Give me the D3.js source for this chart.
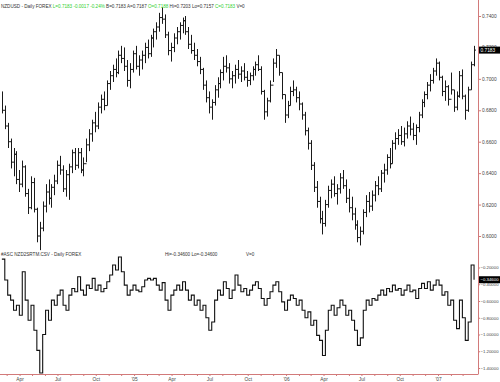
<!DOCTYPE html>
<html>
<head>
<meta charset="utf-8">
<script src="https://cdn.jsdelivr.net/npm/d3@7"></script>
<style>
  body { margin: 0; background: #fff; }
  svg { display: block; }
  text { font-family: "Liberation Sans", Arial, sans-serif; }
</style>
</head>
<body>
<svg id="chart" width="500" height="382"></svg>
<script>
// weekly bars, first week starting Mon 16 Feb 2004
const firstWeek = new Date(2004, 1, 16);
const priceHi = [.6920,.6830,.6720,.6620,.6560,.6540,.6420,.6480,.6450,.6300,.6380,.6370,.6180,.6090,.6220,.6330,.6360,.6330,.6390,.6480,
  .6510,.6450,.6420,.6460,.6550,.6560,.6560,.6560,.6500,.6620,.6680,.6740,.6790,.6850,.6900,.6920,.6990,.7050,.7090,.7130,
  .7180,.7210,.7200,.7120,.7100,.7180,.7210,.7150,.7180,.7230,.7250,.7280,.7320,.7360,.7420,.7455,.7410,.7300,.7230,.7290,
  .7330,.7360,.7390,.7400,.7330,.7280,.7230,.7190,.7140,.7070,.6990,.6920,.6870,.6960,.7010,.7060,.7140,.7150,.7100,.7050,
  .7090,.7120,.7080,.7100,.7050,.7040,.7080,.7110,.7150,.7080,.6930,.6880,.6990,.7130,.7190,.7150,.7040,.6900,.6860,.6950,
  .6990,.6950,.6920,.6850,.6790,.6690,.6610,.6470,.6350,.6250,.6160,.6230,.6320,.6360,.6380,.6330,.6400,.6420,.6360,.6300,
  .6250,.6180,.6100,.6060,.6170,.6260,.6280,.6290,.6350,.6380,.6420,.6460,.6520,.6560,.6610,.6660,.6680,.6700,.6690,.6730,
  .6760,.6720,.6710,.6790,.6870,.6920,.6980,.7030,.7070,.7130,.7110,.7020,.6990,.6960,.7040,.6930,.6920,.7050,.7060,.6900,
  .6950,.7110,.7210];
const priceLo = [.6780,.6680,.6560,.6430,.6380,.6330,.6280,.6310,.6250,.6140,.6170,.6150,.5960,.5910,.6030,.6150,.6200,.6180,.6260,.6330,
  .6390,.6280,.6250,.6230,.6400,.6420,.6430,.6400,.6380,.6470,.6540,.6600,.6660,.6680,.6780,.6800,.6830,.6930,.6980,.7010,
  .7030,.7100,.7050,.6950,.6940,.7040,.7060,.7020,.7060,.7100,.7130,.7140,.7200,.7250,.7300,.7350,.7260,.7150,.7110,.7170,
  .7220,.7250,.7290,.7280,.7190,.7160,.7120,.7080,.7030,.6930,.6850,.6780,.6740,.6830,.6880,.6940,.6990,.7040,.6970,.6940,
  .6970,.7000,.6980,.6990,.6950,.6960,.6990,.7020,.7050,.6900,.6740,.6760,.6850,.6980,.7070,.7020,.6870,.6720,.6750,.6830,
  .6890,.6850,.6800,.6740,.6640,.6550,.6420,.6280,.6180,.6080,.6010,.6060,.6180,.6240,.6250,.6200,.6270,.6300,.6210,.6150,
  .6100,.6040,.5960,.5940,.6010,.6120,.6150,.6160,.6220,.6260,.6280,.6340,.6390,.6430,.6460,.6550,.6580,.6580,.6570,.6620,
  .6640,.6610,.6580,.6660,.6750,.6820,.6870,.6920,.6970,.7020,.6990,.6890,.6860,.6830,.6900,.6790,.6800,.6880,.6870,.6740,
  .6790,.6930,.7080];
const priceCl = [.6800,.6700,.6600,.6470,.6520,.6360,.6330,.6440,.6270,.6180,.6340,.6170,.6000,.6050,.6190,.6280,.6240,.6310,.6350,.6450,
  .6420,.6300,.6390,.6440,.6530,.6450,.6530,.6420,.6460,.6580,.6650,.6720,.6700,.6820,.6870,.6830,.6970,.7020,.7060,.7040,
  .7150,.7130,.7080,.6990,.7060,.7160,.7080,.7120,.7150,.7200,.7160,.7260,.7300,.7330,.7390,.7380,.7280,.7180,.7200,.7260,
  .7300,.7340,.7370,.7300,.7220,.7180,.7150,.7110,.7060,.6960,.6880,.6820,.6850,.6930,.6970,.7040,.7080,.7070,.7000,.7020,
  .7060,.7030,.7050,.7010,.6990,.7020,.7060,.7090,.7060,.6920,.6790,.6860,.6960,.7100,.7150,.7040,.6900,.6770,.6830,.6920,
  .6930,.6880,.6840,.6770,.6670,.6590,.6450,.6310,.6220,.6110,.6080,.6200,.6290,.6330,.6270,.6300,.6370,.6320,.6240,.6180,
  .6140,.6070,.5990,.6030,.6150,.6220,.6190,.6260,.6320,.6300,.6400,.6420,.6500,.6460,.6590,.6620,.6640,.6600,.6650,.6700,
  .6680,.6640,.6690,.6770,.6850,.6900,.6960,.6990,.7050,.7100,.7010,.6920,.6950,.6870,.6930,.6820,.6890,.7020,.6890,.6800,
  .6930,.7090,.7183];
const oscVal = [-0.10,-0.35,-0.53,-0.59,-0.71,-0.65,-0.77,-0.25,-0.59,-0.83,-0.65,-0.95,-1.19,-1.46,-1.00,-0.71,-0.83,-0.59,-0.65,-0.53,
  -0.47,-0.65,-0.71,-0.53,-0.45,-0.49,-0.31,-0.47,-0.53,-0.41,-0.45,-0.33,-0.47,-0.41,-0.49,-0.45,-0.37,-0.29,-0.17,-0.23,
  -0.075,-0.25,-0.41,-0.53,-0.47,-0.41,-0.47,-0.49,-0.43,-0.35,-0.33,-0.35,-0.33,-0.41,-0.47,-0.38,-0.59,-0.71,-0.53,-0.47,
  -0.41,-0.47,-0.37,-0.47,-0.59,-0.53,-0.65,-0.59,-0.71,-0.65,-0.80,-0.95,-0.85,-0.59,-0.47,-0.53,-0.37,-0.45,-0.57,-0.47,
  -0.29,-0.41,-0.49,-0.45,-0.53,-0.47,-0.41,-0.37,-0.45,-0.57,-0.65,-0.57,-0.49,-0.41,-0.37,-0.49,-0.61,-0.71,-0.59,-0.53,
  -0.57,-0.65,-0.59,-0.71,-0.80,-0.73,-0.89,-0.83,-1.01,-1.07,-1.25,-0.95,-0.71,-0.65,-0.77,-0.68,-0.59,-0.65,-0.77,-0.71,
  -0.83,-0.95,-1.13,-1.04,-0.71,-0.59,-0.65,-0.57,-0.59,-0.53,-0.47,-0.53,-0.45,-0.49,-0.41,-0.47,-0.45,-0.53,-0.47,-0.41,
  -0.49,-0.47,-0.57,-0.45,-0.39,-0.45,-0.37,-0.47,-0.41,-0.35,-0.41,-0.53,-0.49,-0.65,-0.59,-0.83,-0.93,-0.59,-0.80,-1.07,
  -0.85,-0.17,-0.346];

const priceTicks = [0.60, 0.62, 0.64, 0.66, 0.68, 0.70, 0.72, 0.74];
const oscTicks = [-0.2, -0.4, -0.6, -0.8, -1.0, -1.2, -1.4];
const lastPrice = 0.7183;
const lastOsc = -0.346;

const green = "#2fcf2f";
const priceTitle = [
  ["NZDUSD - Daily FOREX ", "#333"], ["L=0.7183 -0.0017 -0.24% ", green], ["B=0.7183 A=0.7187 ", "#333"],
  ["O=0.7188 ", green], ["Hi=0.7203 Lo=0.7157 ", "#333"], ["C=0.7183 ", green], ["V=0", "#333"]
];
const oscTitle = "#ASC NZD2SRTM.CSV - Daily FOREX";
const oscHiLo = "Hi=-0.34600 Lo=-0.34600";

const axisX = 478, axisY = 374;
const axisColor = "#d27a7a";
const svg = d3.select("#chart");

const dates = priceHi.map((d, i) => d3.timeHour.offset(firstWeek, (7 * i + 2) * 24 + 12));
const x = d3.scaleTime()
  .domain([new Date(2004, 1, 14), new Date(2007, 3, 7)])
  .range([0, axisX]);
const yP = d3.scaleLinear().domain([0.60, 0.74]).range([236, 16]);
const yO = d3.scaleLinear().domain([-1.4, -0.2]).range([368, 267.5]);

// price bars
const bars = svg.append("g").attr("stroke", "#1a1a1a").attr("stroke-width", 1);
priceHi.forEach((h, i) => {
  const cx = Math.round(x(dates[i])) + 0.5;
  bars.append("line").attr("x1", cx).attr("x2", cx).attr("y1", yP(h)).attr("y2", yP(priceLo[i]));
  if (i > 0) {
    bars.append("line").attr("x1", cx - 1.5).attr("x2", cx).attr("y1", yP(priceCl[i - 1])).attr("y2", yP(priceCl[i - 1]));
  }
  bars.append("line").attr("x1", cx).attr("x2", cx + 1.5).attr("y1", yP(priceCl[i])).attr("y2", yP(priceCl[i]));
});

// oscillator step line
const line = d3.line().x((d, i) => x(dates[i])).y(d => yO(d)).curve(d3.curveStepAfter);
svg.append("path").datum(oscVal)
  .attr("d", line)
  .attr("fill", "none")
  .attr("stroke", "#111")
  .attr("stroke-width", 1.1);

// titles
const t1 = svg.append("text").attr("x", 1).attr("y", 7.5).attr("font-size", 4.6);
priceTitle.forEach(p => t1.append("tspan").attr("fill", p[1]).text(p[0]));
svg.append("text").attr("x", 1).attr("y", 256).attr("font-size", 4.6).attr("fill", "#333").text(oscTitle);
svg.append("text").attr("x", 165).attr("y", 256).attr("font-size", 4.6).attr("fill", "#333").text(oscHiLo);
svg.append("text").attr("x", 246).attr("y", 256).attr("font-size", 4.6).attr("fill", "#333").text("V=0");

// right axes
function styleAxis(size) {
  return g => {
    g.select(".domain").remove();
    g.selectAll(".tick line").attr("stroke", axisColor);
    g.selectAll(".tick text").attr("fill", "#444").attr("font-size", size)
      .attr("font-family", "Liberation Sans, Arial, sans-serif");
  };
}
svg.append("g").attr("transform", `translate(${axisX},0)`)
  .call(d3.axisRight(yP).tickValues(priceTicks).tickSize(3).tickPadding(1).tickFormat(d3.format(".4f")))
  .call(styleAxis(4.8));
svg.append("g").attr("transform", `translate(${axisX},0)`)
  .call(d3.axisRight(yO).tickValues(oscTicks).tickSize(2).tickPadding(0.5).tickFormat(d3.format(".5f")))
  .call(styleAxis(4.3));

// bottom time axis
const fmtMonth = d3.timeFormat("%b");
const xAxis = d3.axisBottom(x)
  .tickValues(d3.timeMonth.range(new Date(2004, 2, 1), new Date(2007, 3, 1)))
  .tickSize(2).tickPadding(2)
  .tickFormat(d => d.getMonth() % 3 ? "" : (d.getMonth() === 0 ? "'" + d3.timeFormat("%y")(d) : fmtMonth(d)));
svg.append("g").attr("transform", `translate(0,${axisY})`).call(xAxis).call(styleAxis(4.8));

// axis lines
svg.append("line").attr("x1", axisX + 0.5).attr("x2", axisX + 0.5).attr("y1", 0).attr("y2", axisY)
  .attr("stroke", axisColor);
svg.append("line").attr("x1", 0).attr("x2", axisX + 0.5).attr("y1", axisY + 0.5).attr("y2", axisY + 0.5)
  .attr("stroke", axisColor);

// last value boxes
function lastBox(yv, label, size) {
  const g = svg.append("g").attr("transform", `translate(${axisX + 1},${yv})`);
  g.append("rect").attr("x", 0).attr("y", -3.5).attr("width", 21).attr("height", 7).attr("fill", "#000");
  g.append("text").attr("x", 1.5).attr("y", 1.7).attr("font-size", size).attr("fill", "#fff").text(label);
}
lastBox(yP(lastPrice), d3.format(".4f")(lastPrice), 4.8);
lastBox(yO(lastOsc), d3.format(".5f")(lastOsc), 4.3);
</script>
</body>
</html>
